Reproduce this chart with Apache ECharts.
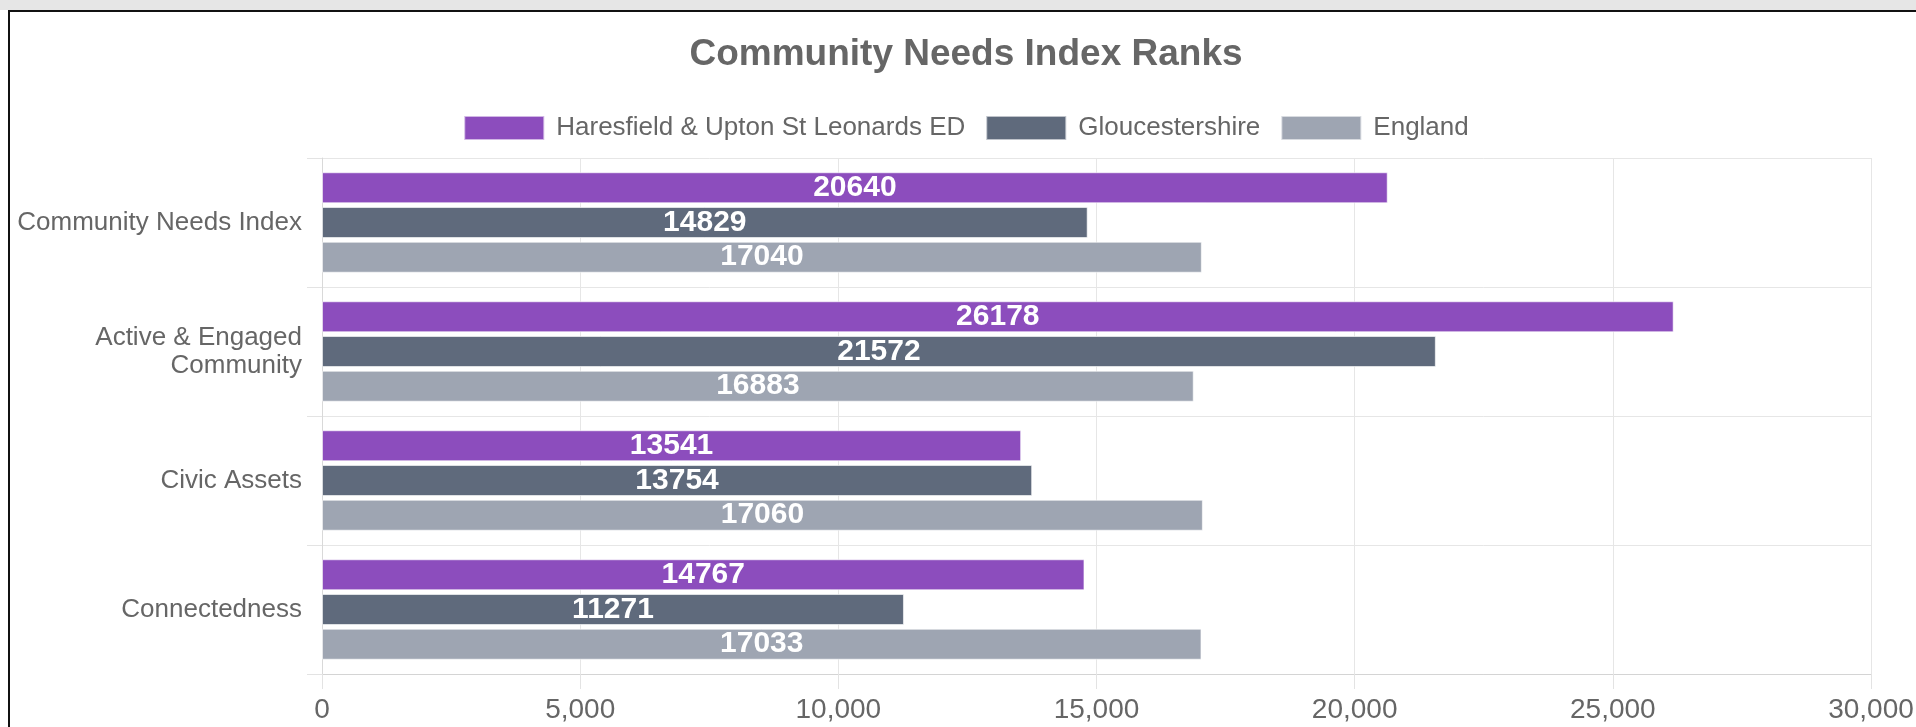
<!DOCTYPE html>
<html>
<head>
<meta charset="utf-8">
<title>Community Needs Index Ranks</title>
<script src="https://cdn.jsdelivr.net/npm/echarts@6/dist/echarts.min.js"></script>
<style>
  html, body { margin: 0; padding: 0; background: #fff; overflow: hidden; }
  .top-band { position: absolute; left: 0; top: 0; width: 1916px; height: 10px; background: #e6e6e6; }
  .frame { position: absolute; left: 8px; top: 10px; width: 1930px; height: 740px; border-top: 2px solid #111; border-left: 2px solid #111; }
  #chart { position: absolute; left: 10px; top: 12px; width: 1912px; height: 715px; }
</style>
</head>
<body>
<div class="top-band"></div>
<div class="frame"></div>
<div id="chart"></div>
<script>
// categories (top to bottom)
const categories = ["Community Needs Index", "Active & Engaged\nCommunity", "Civic Assets", "Connectedness"];
const seriesNames = ["Haresfield & Upton St Leonards ED", "Gloucestershire", "England"];
const seriesColors = ["#8c4dbd", "#5f6a7c", "#9ea5b2"];

// ranks
const haresfield = [20640, 26178, 13541, 14767];
const gloucestershire = [14829, 21572, 13754, 11271];
const england = [17040, 16883, 17060, 17033];

// x axis ticks
const xMin = 0;
const xMax = 30000;
const xStep = 5000;

const textColor = "#666";
const fontFamily = "'Liberation Sans', Arial, sans-serif";

const chart = echarts.init(document.getElementById("chart"));

const seriesData = [haresfield, gloucestershire, england];

const option = {
  animation: false,
  textStyle: { fontFamily: fontFamily },
  title: {
    text: "Community Needs Index Ranks",
    left: "center",
    top: 19,
    textStyle: { fontSize: 37, fontWeight: "bold", color: textColor, fontFamily: fontFamily },
  },
  legend: {
    top: 98,
    left: "center",
    itemWidth: 80,
    itemHeight: 24,
    itemGap: 20,
    icon: "rect",
    textStyle: { fontSize: 26, color: textColor, fontFamily: fontFamily, padding: [0, 0, 0, 7] },
    data: seriesNames,
  },
  grid: {
    left: 312,
    right: 51,
    top: 146,
    bottom: 53,
    containLabel: false,
  },
  xAxis: {
    type: "value",
    min: xMin,
    max: xMax,
    interval: xStep,
    axisLine: { show: true, lineStyle: { color: "#d4d4d4", width: 1 } },
    axisTick: { show: true, length: 15, lineStyle: { color: "#e3e3e3" } },
    splitLine: { show: true, lineStyle: { color: "#e6e6e6" } },
    axisLabel: {
      fontSize: 28,
      color: textColor,
      margin: 22,
      fontFamily: fontFamily,
      formatter: (v) => v.toLocaleString("en-US"),
    },
  },
  yAxis: {
    type: "category",
    inverse: true,
    data: categories,
    axisLine: { show: true, lineStyle: { color: "#d9d9d9" } },
    axisTick: { show: true, length: 15, lineStyle: { color: "#e3e3e3" } },
    splitLine: { show: true, lineStyle: { color: "#e6e6e6" } },
    axisLabel: {
      fontSize: 26,
      lineHeight: 28,
      color: textColor,
      margin: 20,
      align: "right",
      fontFamily: fontFamily,
    },
  },
  series: seriesNames.map((name, i) => ({
    name: name,
    type: "bar",
    data: seriesData[i],
    barWidth: 31,
    barGap: "12%",
    itemStyle: { color: seriesColors[i], borderColor: "rgba(255,255,255,0.6)", borderWidth: 1 },
    label: {
      show: true,
      position: "inside",
      color: "#fff",
      fontSize: 30,
      fontWeight: "bold",
      fontFamily: fontFamily,
    },
  })),
};

chart.setOption(option);
</script>
</body>
</html>
